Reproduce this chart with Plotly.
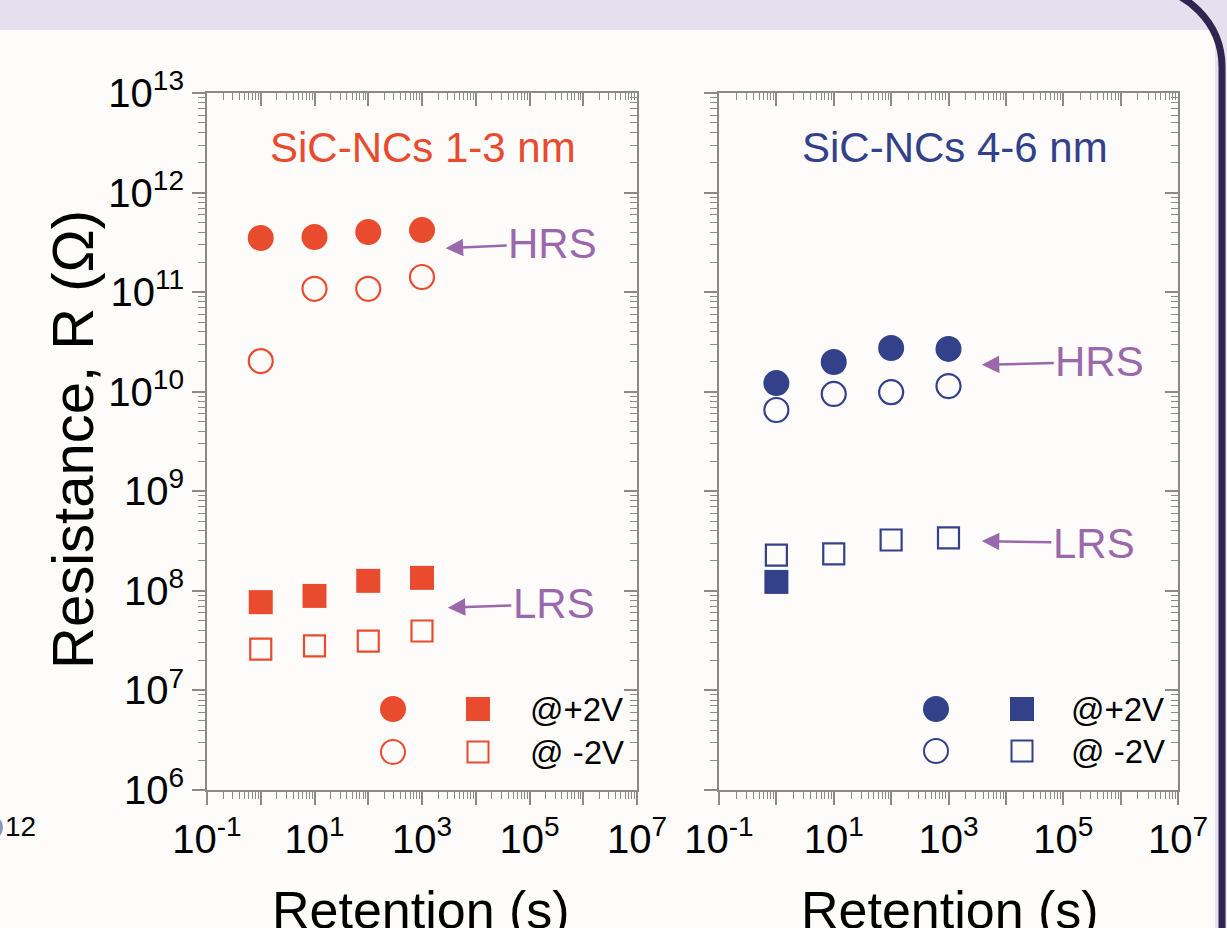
import plotly.graph_objects as go

W, H = 1227, 928

# ---------------- data ----------------
retention_s = [1, 10, 100, 1000]

# SiC-NCs 1-3 nm
small_hrs_pos = [3.5e11, 3.58e11, 4.02e11, 4.2e11]
small_hrs_neg = [2.03e10, 1.08e11, 1.08e11, 1.42e11]
small_lrs_pos = [7.7e7, 8.9e7, 1.26e8, 1.35e8]
small_lrs_neg = [2.6e7, 2.8e7, 3.13e7, 3.95e7]

# SiC-NCs 4-6 nm
large_hrs_pos = [1.22e10, 1.99e10, 2.75e10, 2.69e10]
large_hrs_neg = [6.55e9, 9.5e9, 9.9e9, 1.14e10]
large_lrs_pos_t = [1]
large_lrs_pos = [1.23e8]
large_lrs_neg = [2.29e8, 2.35e8, 3.24e8, 3.4e8]

x_decades = [-1, 0, 1, 2, 3, 4, 5, 6, 7]
y_decades = [6, 7, 8, 9, 10, 11, 12, 13]

panel_titles = ["SiC-NCs 1-3 nm", "SiC-NCs 4-6 nm"]

# ---------------- style ----------------
RED = "#E94B2E"
BLUE = "#33408A"
PURPLE = "#9B68AB"
AXC = "#8A8A8A"
FONT = "Liberation Sans, Arial, sans-serif"
LAV = "#E4E0EE"
PAGE = "#FDFCFA"


def px(x):
    return x / W


def py(y):
    return 1 - y / H


fig = go.Figure()


def add(xs, ys, sym, color, xa, ya, size):
    open_ = sym.endswith("open")
    fig.add_trace(go.Scatter(
        x=xs, y=ys, mode="markers", xaxis=xa, yaxis=ya, showlegend=False,
        marker=dict(symbol=sym, size=size, color=color,
                    line=dict(color=color, width=2.2 if open_ else 0)),
    ))


add(retention_s, small_hrs_pos, "circle", RED, "x", "y", 26)
add(retention_s, small_hrs_neg, "circle-open", RED, "x", "y", 24)
add(retention_s, small_lrs_pos, "square", RED, "x", "y", 24)
add(retention_s, small_lrs_neg, "square-open", RED, "x", "y", 21)

add(retention_s, large_hrs_pos, "circle", BLUE, "x2", "y2", 26)
add(retention_s, large_hrs_neg, "circle-open", BLUE, "x2", "y2", 24)
add(large_lrs_pos_t, large_lrs_pos, "square", BLUE, "x2", "y2", 24)
add(retention_s, large_lrs_neg, "square-open", BLUE, "x2", "y2", 21)

# empty traces so the mirrored (inner-tick) axes are drawn
for xa, ya in [("x3", "y"), ("x", "y3"), ("x4", "y2"), ("x2", "y4")]:
    fig.add_trace(go.Scatter(x=[None], y=[None], xaxis=xa, yaxis=ya,
                             showlegend=False, hoverinfo="skip"))

xdom_l = [px(207), px(637)]
xdom_r = [px(719), px(1178)]
ydom = [py(790), py(93)]

xtickvals = [10 ** k for k in x_decades]
xticktext = [f"10<sup>{k}</sup>" if k % 2 else "" for k in x_decades]
ytickvals = [10 ** k for k in y_decades]
yticktext = [f"10<sup>{k}</sup>" for k in y_decades]

common = dict(type="log", showgrid=False, zeroline=False, automargin=False,
              showline=True, linecolor=AXC, linewidth=2,
              tickcolor=AXC, tickwidth=1.5, ticklen=13,
              tickfont=dict(family=FONT, size=40, color="black"))
minor_out = dict(ticks="outside", ticklen=7, tickwidth=1.2, tickcolor=AXC,
                 dtick="D1", showgrid=False)
minor_in = dict(ticks="inside", ticklen=7, tickwidth=1.2, tickcolor=AXC,
                dtick="D1", showgrid=False)

xr = [-1, 7]
yr = [6, 13]

fig.update_layout(
    template="none",
    xaxis=dict(**common, domain=xdom_l, range=xr, anchor="y", ticks="outside",
               tickmode="array", tickvals=xtickvals, ticktext=xticktext,
               minor=minor_out),
    yaxis=dict(**common, domain=ydom, range=yr, anchor="x", ticks="outside",
               tickmode="array", tickvals=ytickvals, ticktext=yticktext,
               minor=minor_out),
    xaxis2=dict(**common, domain=xdom_r, range=xr, anchor="y2", ticks="outside",
                tickmode="array", tickvals=xtickvals, ticktext=xticktext,
                minor=minor_out),
    yaxis2=dict(**common, domain=ydom, range=yr, anchor="x2", ticks="outside",
                tickmode="array", tickvals=ytickvals, showticklabels=False,
                minor=minor_out),
    xaxis3=dict(**common, range=xr, overlaying="x", anchor="y", side="top",
                ticks="inside", tickmode="array", tickvals=xtickvals,
                showticklabels=False, minor=minor_in),
    yaxis3=dict(**common, range=yr, overlaying="y", anchor="x", side="right",
                ticks="inside", tickmode="array", tickvals=ytickvals,
                showticklabels=False, minor=minor_in),
    xaxis4=dict(**common, range=xr, overlaying="x2", anchor="y2", side="top",
                ticks="inside", tickmode="array", tickvals=xtickvals,
                showticklabels=False, minor=minor_in),
    yaxis4=dict(**common, range=yr, overlaying="y2", anchor="x2", side="right",
                ticks="inside", tickmode="array", tickvals=ytickvals,
                showticklabels=False, minor=minor_in),
)

shapes = [
    # page background
    dict(type="rect", xref="paper", yref="paper", x0=px(-5), x1=px(1215),
         y0=py(30), y1=py(935), fillcolor=PAGE, line=dict(width=0), layer="below"),
    # dark rounded border on the right
    dict(type="path", xref="paper", yref="paper", layer="below",
         path=(f"M {px(1142)},{py(-13)} C {px(1186)},{py(-13)} {px(1222)},{py(23)} "
               f"{px(1222)},{py(67)} L {px(1222)},{py(935)}"),
         line=dict(color="#2E2650", width=7)),
    # sliver of a neighbouring marker at the far left
    dict(type="circle", xref="paper", yref="paper", x0=px(-22), x1=px(3),
         y0=py(840), y1=py(815), fillcolor="#8796C4", line=dict(width=0)),
]

# legend symbols inside the panels
def leg_symbols(cx_c, cx_s, y1, y2, color):
    r = 13
    s = 12
    return [
        dict(type="circle", xref="paper", yref="paper", x0=px(cx_c - r), x1=px(cx_c + r),
             y0=py(y1 + r), y1=py(y1 - r), fillcolor=color, line=dict(width=0)),
        dict(type="rect", xref="paper", yref="paper", x0=px(cx_s - s), x1=px(cx_s + s),
             y0=py(y1 + s), y1=py(y1 - s), fillcolor=color, line=dict(width=0)),
        dict(type="circle", xref="paper", yref="paper", x0=px(cx_c - 12), x1=px(cx_c + 12),
             y0=py(y2 + 12), y1=py(y2 - 12), line=dict(color=color, width=2)),
        dict(type="rect", xref="paper", yref="paper", x0=px(cx_s - 10.5), x1=px(cx_s + 10.5),
             y0=py(y2 + 10.5), y1=py(y2 - 10.5), line=dict(color=color, width=2)),
    ]


shapes += leg_symbols(393, 478, 709, 752, RED)
shapes += leg_symbols(936, 1022, 709, 751, BLUE)
fig.update_layout(shapes=shapes)

ann = []
# panel titles
ann.append(dict(text=panel_titles[0], xref="paper", yref="paper", x=px(423), y=py(147),
                xanchor="center", yanchor="middle",
                showarrow=False, font=dict(family=FONT, size=42, color=RED)))
ann.append(dict(text=panel_titles[1], xref="paper", yref="paper", x=px(955), y=py(147),
                xanchor="center", yanchor="middle",
                showarrow=False, font=dict(family=FONT, size=42, color=BLUE)))

# HRS / LRS labels with arrows
def arrow_label(text, xa, ya, tipx, tipy, axp, ayp):
    return dict(text=text, xref=xa, yref=ya, x=tipx, y=tipy, ax=axp, ay=ayp,
                showarrow=True, arrowhead=2, arrowsize=1.4, arrowwidth=2.5,
                arrowcolor=PURPLE, font=dict(family=FONT, size=42, color=PURPLE))


ann.append(arrow_label("HRS", "x", "y", 3.44, 11.44, 107, -5))
ann.append(arrow_label("LRS", "x", "y", 3.48, 7.83, 106, -4))
ann.append(arrow_label("HRS", "x2", "y2", 3.58, 10.27, 118, -3))
ann.append(arrow_label("LRS", "x2", "y2", 3.58, 8.50, 112, 2))

# legend texts
for x0, y0, t in [(528, 709, "@+2V"), (528, 752, "@ -2V"),
                  (1069, 709, "@+2V"), (1069, 751, "@ -2V")]:
    ann.append(dict(text=t, xref="paper", yref="paper", x=px(x0), y=py(y0),
                    xanchor="left", yanchor="middle", showarrow=False,
                    font=dict(family=FONT, size=33, color="black")))

# axis titles
ann.append(dict(text="Resistance, R (Ω)", xref="paper", yref="paper", x=px(72), y=py(440),
                xanchor="center", yanchor="middle",
                textangle=-90, showarrow=False, font=dict(family=FONT, size=58, color="black")))
for cx in (421, 950):
    ann.append(dict(text="Retention (s)", xref="paper", yref="paper", x=px(cx), y=py(910),
                    xanchor="center", yanchor="middle",
                    showarrow=False, font=dict(family=FONT, size=52, color="black")))

# cut-off label fragment from neighbouring figure
ann.append(dict(text="12", xref="paper", yref="paper", x=px(3), y=py(826),
                xanchor="left", yanchor="middle",
                showarrow=False, font=dict(family=FONT, size=28, color="black")))

fig.update_layout(
    annotations=ann,
    width=W, height=H,
    margin=dict(l=0, r=0, t=0, b=0, pad=0),
    paper_bgcolor=LAV,
    plot_bgcolor="rgba(0,0,0,0)",
    showlegend=False,
)

fig.write_html(
    "out.html",
    config={"displayModeBar": False},
    post_script="document.body.style.margin='0px';document.body.style.background='#E4E0EE';",
)
